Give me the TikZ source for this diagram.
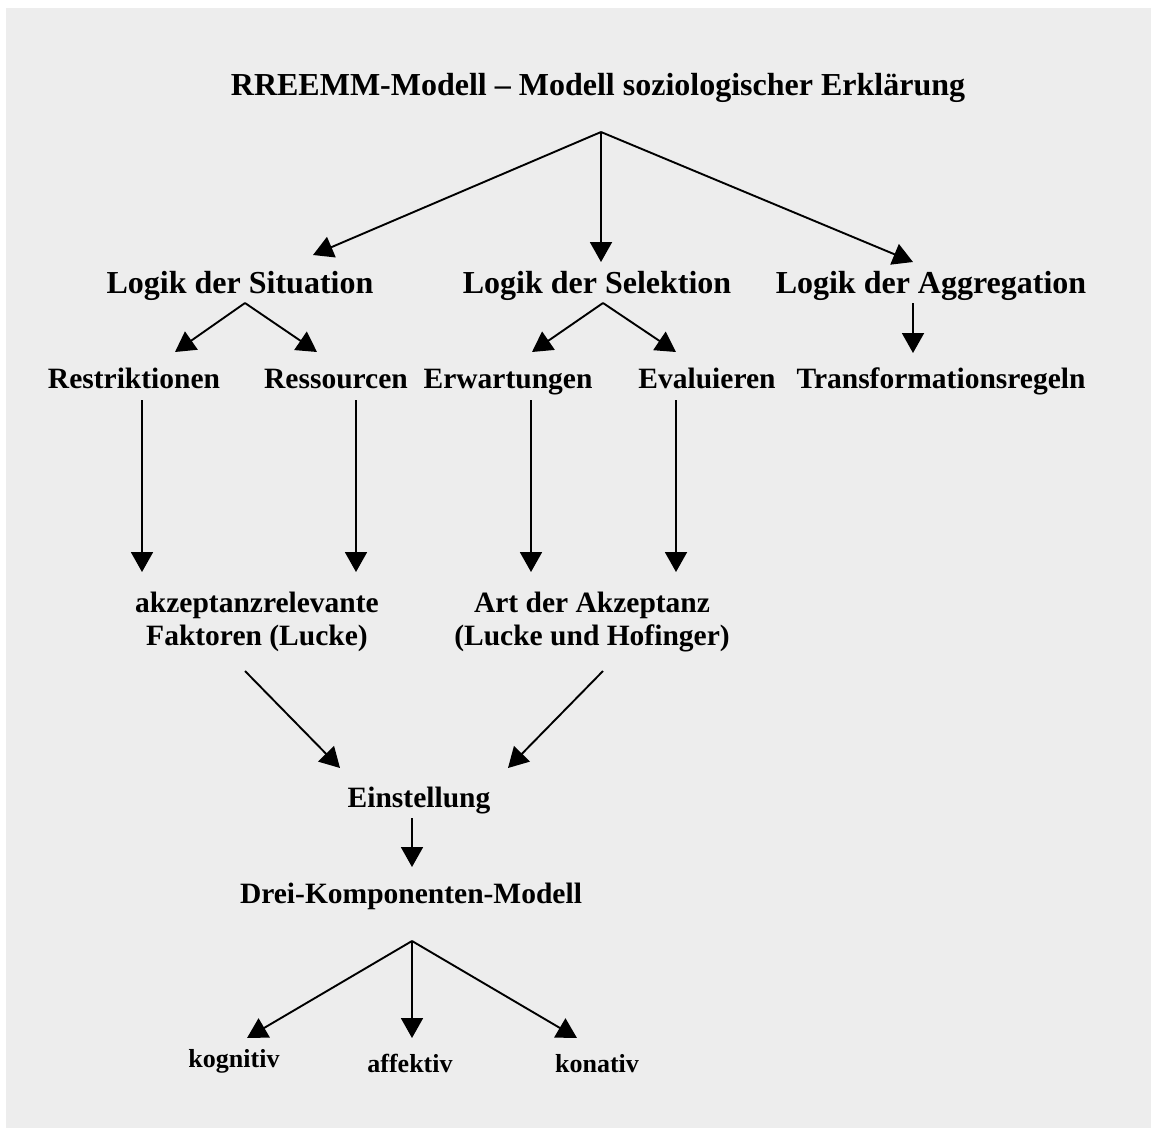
\documentclass[tikz,border=0pt]{standalone}
\usepackage{fontspec}
\setmainfont{Liberation Serif}
\usetikzlibrary{arrows.meta}
\definecolor{bg}{RGB}{237,237,237}
\begin{document}
\begin{tikzpicture}[x=1pt,y=-1pt,
  t/.style={font=\bfseries\fontsize{32}{36}\selectfont, inner sep=0pt, anchor=base},
  big/.style={font=\bfseries\fontsize{32}{36}\selectfont, inner sep=0pt, anchor=base},
  mid/.style={font=\bfseries\fontsize{29.5}{33}\selectfont, inner sep=0pt, anchor=base},
  small/.style={font=\bfseries\fontsize{26}{30}\selectfont, inner sep=0pt, anchor=base},
  arr/.style={-{Triangle[length=20pt,width=22pt]}, line width=1.9pt}]
\useasboundingbox (0,0) rectangle (1151,1128);
\fill[bg] (6,8) rectangle (1151,1128);
% texts
\node[t] (title) at (598,95) {RREEMM-Modell – Modell soziologischer Erklärung};
\node[big] (sit) at (240,293) {Logik der Situation};
\node[big] (sel) at (597,293) {Logik der Selektion};
\node[big] (agg) at (931,293) {Logik der Aggregation};
\node[mid] (res) at (134,388) {Restriktionen};
\node[mid] (ress) at (336,388) {Ressourcen};
\node[mid] (erw) at (508,388) {Erwartungen};
\node[mid] (eva) at (707,388) {Evaluieren};
\node[mid] (tra) at (941,388) {Transformationsregeln};
\node[mid] (akz) at (257,612) {akzeptanzrelevante};
\node[mid] (fak) at (257,645) {Faktoren (Lucke)};
\node[mid] (art) at (592,612) {Art der Akzeptanz};
\node[mid] (luc) at (592,645) {(Lucke und Hofinger)};
\node[mid] (ein) at (419,807) {Einstellung};
\node[mid] (drei) at (411,903) {Drei-Komponenten-Modell};
\node[small] (kog) at (234,1067) {kognitiv};
\node[small] (aff) at (410,1072) {affektiv};
\node[small] (kon) at (597,1072) {konativ};
% connector points
\coordinate (a0) at (601,132);
\coordinate (a0l) at (313,255);
\coordinate (a0m) at (601,262);
\coordinate (a0r) at (913,262);
\coordinate (a1) at (245,303);
\coordinate (a1l) at (175,352);
\coordinate (a1r) at (317,352);
\coordinate (a2) at (603,303);
\coordinate (a2l) at (532,352);
\coordinate (a2r) at (676,352);
\coordinate (a3) at (913,303);
\coordinate (a3e) at (913,353);
\coordinate (b1) at (142,400); \coordinate (b1e) at (142,572);
\coordinate (b2) at (356,400); \coordinate (b2e) at (356,572);
\coordinate (b3) at (531,400); \coordinate (b3e) at (531,572);
\coordinate (b4) at (676,400); \coordinate (b4e) at (676,572);
\coordinate (c1) at (245,671); \coordinate (c1e) at (340,768);
\coordinate (c2) at (603,671); \coordinate (c2e) at (508,768);
\coordinate (d1) at (412,818); \coordinate (d1e) at (412,867);
\coordinate (e0) at (412,941);
\coordinate (e0l) at (247,1038);
\coordinate (e0m) at (412,1038);
\coordinate (e0r) at (577,1038);
% connectors
\draw[arr] (a0) -- (a0l);
\draw[arr] (a0) -- (a0m);
\draw[arr] (a0) -- (a0r);
\draw[arr] (a1) -- (a1l);
\draw[arr] (a1) -- (a1r);
\draw[arr] (a2) -- (a2l);
\draw[arr] (a2) -- (a2r);
\draw[arr] (a3) -- (a3e);
\draw[arr] (b1) -- (b1e);
\draw[arr] (b2) -- (b2e);
\draw[arr] (b3) -- (b3e);
\draw[arr] (b4) -- (b4e);
\draw[arr] (c1) -- (c1e);
\draw[arr] (c2) -- (c2e);
\draw[arr] (d1) -- (d1e);
\draw[arr] (e0) -- (e0l);
\draw[arr] (e0) -- (e0m);
\draw[arr] (e0) -- (e0r);
\end{tikzpicture}
\end{document}
